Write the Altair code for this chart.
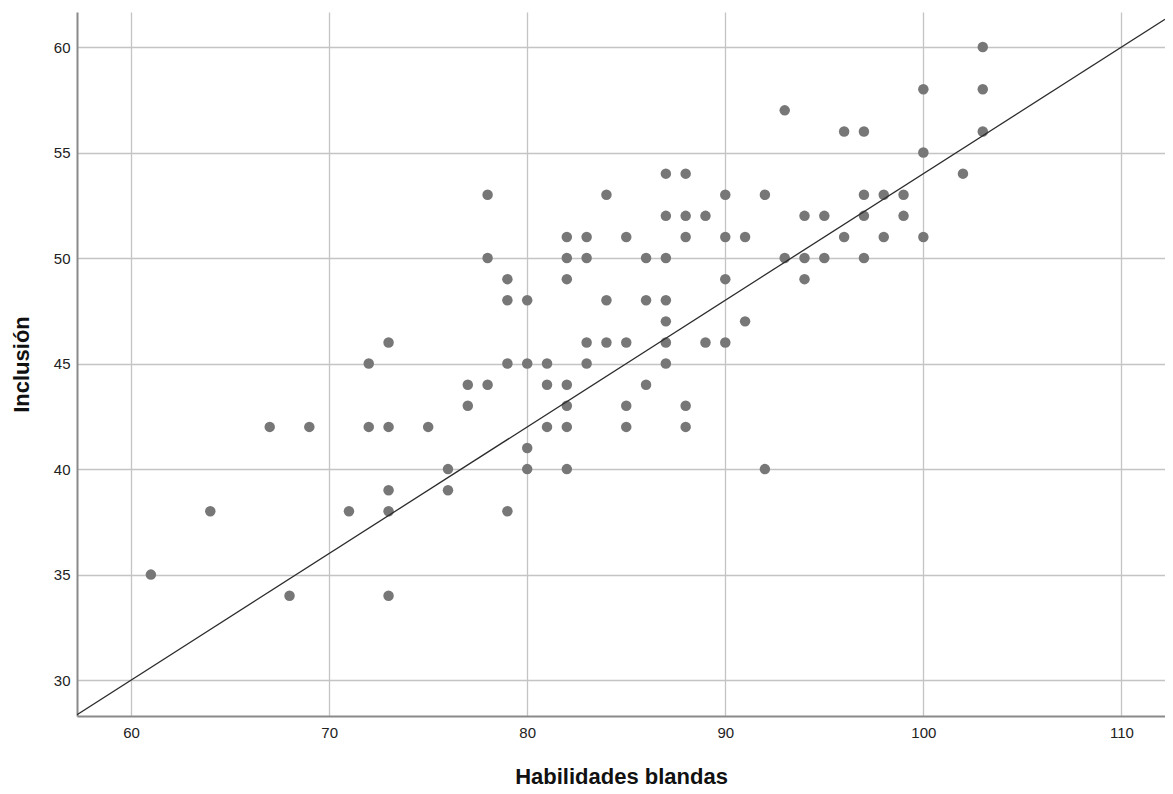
import altair as alt
import pandas as pd

habilidades = [61, 64, 67, 68, 69, 71, 72, 72, 73, 73, 73, 73, 73, 75, 76, 76, 77, 77,
               78, 78, 78, 79, 79, 79, 79, 80, 80, 80, 80, 81, 81, 81,
               82, 82, 82, 82, 82, 82, 82, 83, 83, 83, 83, 84, 84, 84,
               85, 85, 85, 85, 86, 86, 86, 87, 87, 87, 87, 87, 87, 87,
               88, 88, 88, 88, 88, 89, 89, 90, 90, 90, 90, 91, 91, 92, 92,
               93, 93, 94, 94, 94, 95, 95, 96, 96, 97, 97, 97, 97, 98, 98,
               99, 99, 100, 100, 100, 102, 103, 103, 103]
inclusion = [35, 38, 42, 34, 42, 38, 45, 42, 46, 42, 39, 38, 34, 42, 40, 39, 44, 43,
             53, 50, 44, 49, 48, 45, 38, 48, 45, 41, 40, 45, 44, 42,
             51, 50, 49, 44, 43, 42, 40, 51, 50, 46, 45, 53, 48, 46,
             51, 46, 43, 42, 50, 48, 44, 54, 52, 50, 48, 47, 46, 45,
             54, 52, 51, 43, 42, 52, 46, 53, 51, 49, 46, 51, 47, 53, 40,
             57, 50, 52, 50, 49, 52, 50, 56, 51, 56, 53, 52, 50, 53, 51,
             53, 52, 58, 55, 51, 54, 60, 58, 56]

x_ticks = [60, 70, 80, 90, 100, 110]
y_ticks = [30, 35, 40, 45, 50, 55, 60]

x_domain = [57.27, 112.2]
y_domain = [28.3, 61.66]

fit_intercept = -6.0
fit_slope = 0.6

pts = pd.DataFrame({"Habilidades blandas": habilidades, "Inclusión": inclusion})
fit = pd.DataFrame({"x": x_domain,
                    "y": [fit_intercept + fit_slope * v for v in x_domain]})

xscale = alt.Scale(domain=x_domain, nice=False, zero=False)
yscale = alt.Scale(domain=y_domain, nice=False, zero=False)

label_font = "Liberation Sans"

xaxis = alt.Axis(values=x_ticks, title="Habilidades blandas", grid=True,
                 gridColor="#c4c4c4", gridWidth=1.3, domainColor="#8a8a8a",
                 domainWidth=2, ticks=False, labelPadding=9, labelFontSize=15,
                 labelFont=label_font, labelColor="#222",
                 titleFont="Liberation Sans", titleFontSize=22, titleFontWeight="bold",
                 titleColor="#111", titlePadding=26)
yaxis = alt.Axis(values=y_ticks, title="Inclusión", grid=True,
                 gridColor="#c4c4c4", gridWidth=1.3, domainColor="#8a8a8a",
                 domainWidth=2, ticks=False, labelPadding=7, labelFontSize=15,
                 labelFont=label_font, labelColor="#222",
                 titleFont="Liberation Sans", titleFontSize=22, titleFontWeight="bold",
                 titleColor="#111", titlePadding=20)

points = alt.Chart(pts).mark_circle(size=110, color="#777777", opacity=1).encode(
    x=alt.X("Habilidades blandas:Q", scale=xscale, axis=xaxis),
    y=alt.Y("Inclusión:Q", scale=yscale, axis=yaxis),
)

line = alt.Chart(fit).mark_line(color="#2b2b2b", strokeWidth=1.3, clip=True).encode(
    x=alt.X("x:Q", scale=xscale),
    y=alt.Y("y:Q", scale=yscale),
)

chart = alt.layer(points, line).properties(
    width=1088, height=704,
    autosize=alt.AutoSizeParams(type="none"),
    padding={"left": 69, "top": 4, "right": 0, "bottom": 76},
).configure_view(stroke=None)

chart.save("out.html", embed_options={"renderer": "svg", "actions": False})
